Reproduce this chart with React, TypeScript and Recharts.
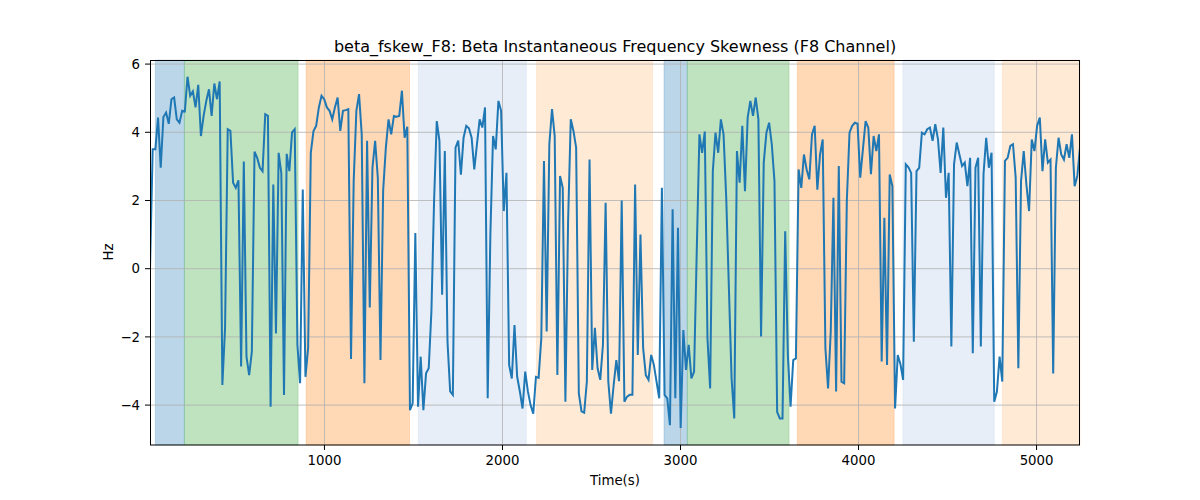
import React from 'react';
import { LineChart, Line, XAxis, YAxis, ReferenceArea, ReferenceLine } from 'recharts';

// beta skewness samples at a regular time step
const skewValues = [
  0.0, 3.5, 3.5, 4.43, 2.96, 4.45, 4.58, 4.25, 4.97, 5.02,
  4.38, 4.28, 4.63, 4.61, 5.63, 5.07, 5.2, 4.73, 5.39, 3.89,
  4.48, 4.92, 5.26, 4.48, 5.43, 4.97, 5.49, -3.41, -1.75, 4.09,
  4.04, 2.52, 2.37, 2.59, -2.87, 3.14, -2.58, -3.12, -2.43, 3.43,
  3.25, 2.96, 2.86, 4.53, 4.48, -4.05, 2.47, -1.9, 3.4, 2.8,
  -3.7, 3.37, 2.86, 4.0, 4.09, -2.23, -3.36, 2.32, -3.17, -2.33,
  3.4, 4.04, 4.19, 4.73, 5.07, 4.97, 4.73, 4.63, 4.38, 4.73,
  5.02, 4.04, 4.63, 4.65, 4.68, -2.65, 2.57, 4.63, 5.12, 3.94,
  -3.36, 3.75, -1.14, 2.96, 3.75, 2.67, -2.68, 2.3, 3.55, 4.38,
  3.94, 4.48, 4.46, 4.48, 5.22, 3.84, 4.16, -4.15, -3.95, 1.05,
  -4.05, -2.58, -4.15, -3.07, -2.92, -1.25, 2.0, 4.33, 3.75, -0.76,
  3.45, -2.14, -3.6, -3.7, 3.55, 3.76, 2.76, 3.84, 4.19, 4.12,
  3.84, 2.91, 3.65, 4.38, 4.14, 4.73, -3.8, 1.0, 3.89, 3.5,
  4.92, 4.63, 1.69, 2.81, -2.82, -3.22, -1.65, -3.17, -3.6, -4.1,
  -3.02, -3.6, -4.0, -4.25, -3.17, -3.2, -2.04, 3.16, -1.84, 3.65,
  4.68, 3.89, -3.12, 2.72, 2.37, -3.9, 1.4, 4.38, 4.04, 3.55,
  -3.66, -4.18, -4.22, -3.31, 3.2, -2.97, -1.73, -2.92, -3.26, -2.23,
  1.93, -3.31, -4.25, -3.41, -2.68, -3.3, 2.0, -3.9, -3.75, -3.7,
  -3.7, 2.47, -2.53, 1.0, -2.33, -3.12, -3.26, -2.53, -2.82, -3.31,
  -3.8, 2.37, -3.7, -3.8, -4.59, 1.74, -3.8, 1.2, -4.67, -1.8,
  -2.97, -2.23, -3.22, -3.02, 0.5, 3.94, 3.4, 4.02, -2.04, -3.51,
  2.86, 3.99, 3.4, 4.38, 3.94, 2.08, -0.57, -3.22, -4.39, 3.45,
  2.52, 4.19, 2.27, 4.43, 4.92, 4.48, 5.02, 4.38, -1.99, 3.11,
  3.99, 4.28, 3.65, 2.57, -4.2, -4.39, -4.39, 1.1, -2.53, -4.05,
  -2.68, -2.63, 2.91, 2.37, 3.35, 2.91, 2.62, 3.94, 4.19, 2.32,
  3.35, 3.79, -2.33, -3.51, -1.84, 2.08, -3.6, 3.01, -3.31, -3.36,
  2.0, 3.99, 4.19, 4.28, 4.25, 2.67, 3.5, 4.33, 4.14, 2.77,
  3.89, 3.45, 3.94, -2.72, 1.49, -2.82, 2.76, 2.42, -4.1, -2.53,
  -2.8, -3.26, 3.06, 2.97, 2.81, -2.14, 2.86, 2.96, 3.99, 3.94,
  4.09, 4.14, 3.75, 4.24, 3.8, 2.81, 4.14, 2.08, 2.81, -2.28,
  3.06, 3.7, 3.35, 3.01, 3.11, 2.42, 3.25, -2.48, 2.96, 3.25,
  -2.28, 2.77, 3.84, 2.96, 3.4, -3.9, -3.6, -2.58, -3.31, 3.16,
  3.25, 3.6, 3.65, 2.67, -2.92, 2.57, 3.45, 2.47, 1.69, 3.79,
  3.45, 4.19, 4.43, 2.86, 3.79, 3.11, 3.2, -3.07, 2.96, 3.84,
  3.35, 3.2, 3.65, 3.25, 3.94, 2.42, 2.72, 3.55,
];

const T_START = 20;
const T_END = 5244;

const spanStarts = [50, 213, 897, 1527, 2191, 2907, 3038, 3656, 4249, 4808];
const spanEnds = [213, 852, 1478, 2134, 2843, 3038, 3610, 4200, 4763, 5244];
const spanColors = [
  '#1f77b4', '#2ca02c', '#ff7f0e', '#aec7e8', '#ffbb78',
  '#1f77b4', '#2ca02c', '#ff7f0e', '#aec7e8', '#ffbb78',
];

const xTicks = [1000, 2000, 3000, 4000, 5000];
const yTicks = [-4, -2, 0, 2, 4, 6];

const step = (T_END - T_START) / (skewValues.length - 1);
const data = skewValues.map((v, i) => ({ t: T_START + i * step, v }));

const font = 'DejaVu Sans, sans-serif';
const tickStyle = { fontSize: 13.3, fill: '#000', fontFamily: font };

export default function App() {
  return (
    <div style={{ position: 'absolute', left: 0, top: 0, width: 1200, height: 500, background: '#fff' }}>
      <LineChart
        width={1200}
        height={500}
        data={data}
        margin={{ top: 60, right: 120, bottom: 25, left: 90 }}
      >
        <XAxis
          dataKey="t"
          type="number"
          domain={[T_START, T_END]}
          allowDataOverflow
          ticks={xTicks}
          height={30}
          axisLine={false}
          tickLine={{ stroke: '#000' }}
          tickSize={5}
          tickMargin={6}
          tick={tickStyle}
        />
        <YAxis
          type="number"
          domain={[-5.17, 6.12]}
          allowDataOverflow
          ticks={yTicks}
          width={60}
          axisLine={false}
          tickLine={{ stroke: '#000' }}
          tickSize={5}
          tickMargin={5}
          tick={tickStyle}
          tickFormatter={(v: number) => String(v).replace('-', '\u2212')}
        />
        {spanStarts.map((s, i) => (
          <ReferenceArea
            key={'span' + i}
            x1={s}
            x2={spanEnds[i]}
            fill={spanColors[i]}
            fillOpacity={0.3}
            stroke={spanColors[i]}
            strokeOpacity={0.2}
          />
        ))}
        {xTicks.map((t) => (
          <ReferenceLine key={'gx' + t} x={t} stroke="#b0b0b0" strokeWidth={0.8} />
        ))}
        {yTicks.map((t) => (
          <ReferenceLine key={'gy' + t} y={t} stroke="#b0b0b0" strokeWidth={0.8} />
        ))}
        <Line
          type="linear"
          dataKey="v"
          stroke="#1f77b4"
          strokeWidth={2}
          dot={false}
          isAnimationActive={false}
        />
      </LineChart>
      <svg
        width={1200}
        height={500}
        style={{ position: 'absolute', left: 0, top: 0, pointerEvents: 'none' }}
      >
        <rect x={150.5} y={60.5} width={929} height={384.5} fill="none" stroke="#000" strokeWidth={1} />
        <text x={615} y={52} textAnchor="middle" fontSize={16} fontFamily={font} fill="#000">
          beta_fskew_F8: Beta Instantaneous Frequency Skewness (F8 Channel)
        </text>
        <text x={615} y={485} textAnchor="middle" fontSize={13.3} fontFamily={font} fill="#000">
          Time(s)
        </text>
        <text
          x={113}
          y={252}
          textAnchor="middle"
          fontSize={13.3}
          fontFamily={font}
          fill="#000"
          transform="rotate(-90 113 252)"
        >
          Hz
        </text>
      </svg>
    </div>
  );
}
